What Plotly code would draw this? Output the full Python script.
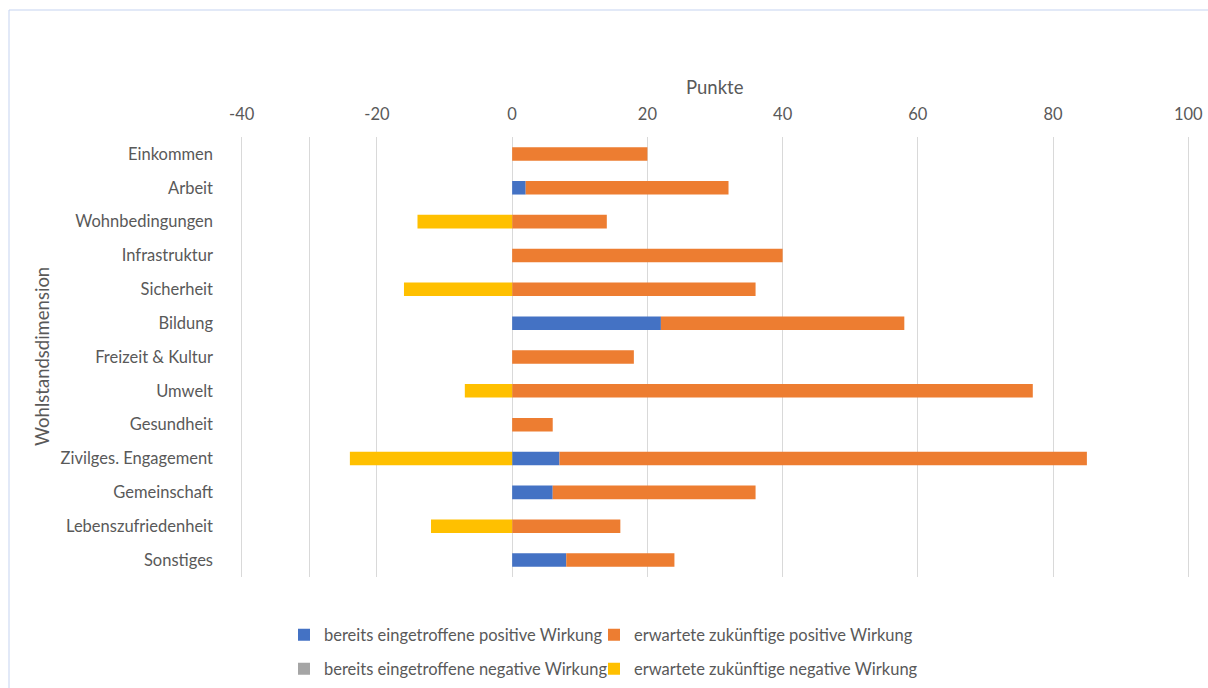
import plotly.graph_objects as go

categories = ["Einkommen", "Arbeit", "Wohnbedingungen", "Infrastruktur", "Sicherheit",
              "Bildung", "Freizeit & Kultur", "Umwelt", "Gesundheit",
              "Zivilges. Engagement", "Gemeinschaft", "Lebenszufriedenheit", "Sonstiges"]

bereits_positiv = [0, 2, 0, 0, 0, 22, 0, 0, 0, 7, 6, 0, 8]
erwartet_positiv = [20, 30, 14, 40, 36, 36, 18, 77, 6, 78, 30, 16, 16]
bereits_negativ = [0, 0, 0, 0, 0, 0, 0, 0, 0, 0, 0, 0, 0]
erwartet_negativ = [0, 0, -14, 0, -16, 0, 0, -7, 0, -24, 0, -12, 0]

# gridline positions and their labels (the -30 line carries no label)
x_grid = [-40, -30, -20, 0, 20, 40, 60, 80, 100]
x_grid_labels = ["-40", "", "-20", "0", "20", "40", "60", "80", "100"]

FONT = "Lato"
GREY_TEXT = "#595959"
TICK_SIZE = 16.5
TITLE_SIZE = 18.5

# plot area in pixels; the x range is padded a little so the outer
# gridlines at -40 and 100 are not dropped at the plot edges
L, R, T, B = 240, 1190, 137, 577
W, H = R - L, B - T
X_RANGE = [-40.25, 100.25]

series = [
    ("bereits eingetroffene positive Wirkung", bereits_positiv, "#4472C4", "legend", 284, 635),
    ("erwartete zukünftige positive Wirkung", erwartet_positiv, "#ED7D31", "legend2", 594, 635),
    ("bereits eingetroffene negative Wirkung", bereits_negativ, "#A5A5A5", "legend3", 284, 669),
    ("erwartete zukünftige negative Wirkung", erwartet_negativ, "#FFC000", "legend4", 594, 669),
]

fig = go.Figure()
legends = {}
for name, values, color, leg, lx, ly in series:
    fig.add_trace(go.Bar(y=categories, x=values, orientation="h", name=name,
                         marker=dict(color=color, line=dict(width=0)), legend=leg))
    legends[leg] = dict(orientation="h", xanchor="left", yanchor="middle",
                        x=(lx - L) / W, y=(B - ly) / H,
                        font=dict(family=FONT, size=TICK_SIZE, color=GREY_TEXT),
                        itemwidth=30, bgcolor="rgba(0,0,0,0)")

fig.update_layout(
    width=1208, height=688,
    margin=dict(l=L, r=1208 - R, t=T, b=688 - B, autoexpand=False),
    paper_bgcolor="white", plot_bgcolor="white",
    showlegend=True,
    barmode="relative", bargap=0.6,
    font=dict(family=FONT, size=TICK_SIZE, color=GREY_TEXT),
    xaxis=dict(range=X_RANGE, side="top", tickvals=x_grid, ticktext=x_grid_labels,
               showgrid=True, gridcolor="#d9d9d9", gridwidth=1,
               zeroline=False, showline=False, ticks="",
               tickfont=dict(family=FONT, size=TICK_SIZE, color=GREY_TEXT),
               ticklabelstandoff=13),
    yaxis=dict(autorange="reversed", showgrid=False, zeroline=False,
               showline=False, ticks="",
               tickfont=dict(family=FONT, size=TICK_SIZE, color=GREY_TEXT),
               ticklabelstandoff=26),
    shapes=[dict(type="rect", xref="paper", yref="paper",
                 x0=(9 - L) / W, x1=1.05, y0=-0.3, y1=(B - 10) / H,
                 line=dict(color="#c5d3f0", width=1), fillcolor="rgba(0,0,0,0)",
                 layer="below")],
    annotations=[
        dict(text="Punkte", xref="paper", yref="paper", x=(714.5 - L) / W, y=(B - 87) / H,
             showarrow=False, font=dict(family=FONT, size=TITLE_SIZE, color=GREY_TEXT),
             xanchor="center", yanchor="middle"),
        dict(text="Wohlstandsdimension", xref="paper", yref="paper",
             x=(42 - L) / W, y=(B - 357) / H, textangle=-90,
             showarrow=False, font=dict(family=FONT, size=TITLE_SIZE, color=GREY_TEXT),
             xanchor="center", yanchor="middle"),
    ],
    **legends,
)

fig.write_html("out.html")
